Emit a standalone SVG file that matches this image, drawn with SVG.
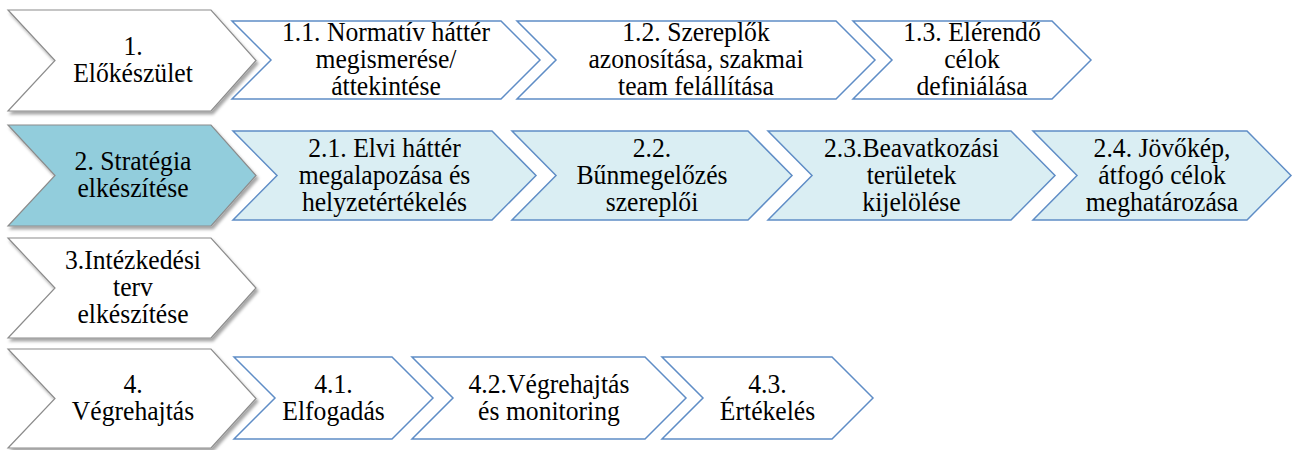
<svg xmlns="http://www.w3.org/2000/svg" width="1293" height="450" viewBox="0 0 1293 450">
<defs>
<filter id="sh" x="-10%" y="-10%" width="125%" height="130%">
<feDropShadow dx="2" dy="3" stdDeviation="1.8" flood-color="#000" flood-opacity="0.35"/>
</filter>
</defs>
<style>
.main{fill:#ffffff;stroke:#8c8c8c;stroke-width:1.2;filter:url(#sh)}
.main.hl{fill:#92cddc}
.sub{fill:#ffffff;stroke:#5f8dc6;stroke-width:1.5}
.sub.lt{fill:#daeef3}
text{font-family:"Liberation Serif","Times New Roman",serif;font-size:27px;fill:#000;text-anchor:middle}
</style>
<rect width="1293" height="450" fill="#ffffff"/>
<g id="connectors"/>

<g id="n1">
<polygon class="main" points="8,10 211,10 256,60.5 211,111 8,111 55,60.5"/>
<g transform="translate(133,0) scale(0.95,1)"><text x="0" y="55">1.</text><text x="0" y="82">Előkészület</text></g>
</g>
<g id="n1-1">
<polygon class="sub" points="232,21 501,21 540,60 501,99 232,99 271,60"/>
<g transform="translate(386,0) scale(0.95,1)"><text x="0" y="41.5">1.1. Normatív háttér</text><text x="0" y="68.5">megismerése/</text><text x="0" y="95.5">áttekintése</text></g>
</g>
<g id="n1-2">
<polygon class="sub" points="517,21 836,21 875,60 836,99 517,99 556,60"/>
<g transform="translate(696,0) scale(0.95,1)"><text x="0" y="41.5">1.2. Szereplők</text><text x="0" y="68.5">azonosítása, szakmai</text><text x="0" y="95.5">team felállítása</text></g>
</g>
<g id="n1-3">
<polygon class="sub" points="853,21 1052,21 1091,60 1052,99 853,99 892,60"/>
<g transform="translate(972,0) scale(0.95,1)"><text x="0" y="41.5">1.3. Elérendő</text><text x="0" y="68.5">célok</text><text x="0" y="95.5">definiálása</text></g>
</g>

<g id="n2">
<polygon class="main hl" points="8,125 211,125 256,175.5 211,226 8,226 55,175.5"/>
<g transform="translate(133,0) scale(0.95,1)"><text x="0" y="170.5">2. Stratégia</text><text x="0" y="197.5">elkészítése</text></g>
</g>
<g id="n2-1">
<polygon class="sub lt" points="233,131 492,131 536,175.5 492,220 233,220 277,175.5"/>
<g transform="translate(384.5,0) scale(0.95,1)"><text x="0" y="157">2.1. Elvi háttér</text><text x="0" y="184">megalapozása és</text><text x="0" y="211">helyzetértékelés</text></g>
</g>
<g id="n2-2">
<polygon class="sub lt" points="512,131 748,131 792,175.5 748,220 512,220 556,175.5"/>
<g transform="translate(652,0) scale(0.95,1)"><text x="0" y="157">2.2.</text><text x="0" y="184">Bűnmegelőzés</text><text x="0" y="211">szereplői</text></g>
</g>
<g id="n2-3">
<polygon class="sub lt" points="768,131 1011,131 1055,175.5 1011,220 768,220 812,175.5"/>
<g transform="translate(911.5,0) scale(0.95,1)"><text x="0" y="157">2.3.Beavatkozási</text><text x="0" y="184">területek</text><text x="0" y="211">kijelölése</text></g>
</g>
<g id="n2-4">
<polygon class="sub lt" points="1033,131 1247,131 1291,175.5 1247,220 1033,220 1077,175.5"/>
<g transform="translate(1162,0) scale(0.95,1)"><text x="0" y="157">2.4. Jövőkép,</text><text x="0" y="184">átfogó célok</text><text x="0" y="211">meghatározása</text></g>
</g>

<g id="n3">
<polygon class="main" points="8,238 211,238 256,288 211,338 8,338 55,288"/>
<g transform="translate(133,0) scale(0.95,1)"><text x="0" y="269.5">3.Intézkedési</text><text x="0" y="296.5">terv</text><text x="0" y="323.5">elkészítése</text></g>
</g>

<g id="n4">
<polygon class="main" points="8,349 211,349 256,398.5 211,448 8,448 55,398.5"/>
<g transform="translate(133,0) scale(0.95,1)"><text x="0" y="393">4.</text><text x="0" y="420">Végrehajtás</text></g>
</g>
<g id="n4-1">
<polygon class="sub" points="234,357 392,357 433,398 392,439 234,439 275,398"/>
<g transform="translate(333.5,0) scale(0.95,1)"><text x="0" y="393">4.1.</text><text x="0" y="420">Elfogadás</text></g>
</g>
<g id="n4-2">
<polygon class="sub" points="412,357 645,357 686,398 645,439 412,439 453,398"/>
<g transform="translate(549,0) scale(0.95,1)"><text x="0" y="393">4.2.Végrehajtás</text><text x="0" y="420">és monitoring</text></g>
</g>
<g id="n4-3">
<polygon class="sub" points="662,357 832,357 873,398 832,439 662,439 703,398"/>
<g transform="translate(767.5,0) scale(0.95,1)"><text x="0" y="393">4.3.</text><text x="0" y="420">Értékelés</text></g>
</g>
</svg>
